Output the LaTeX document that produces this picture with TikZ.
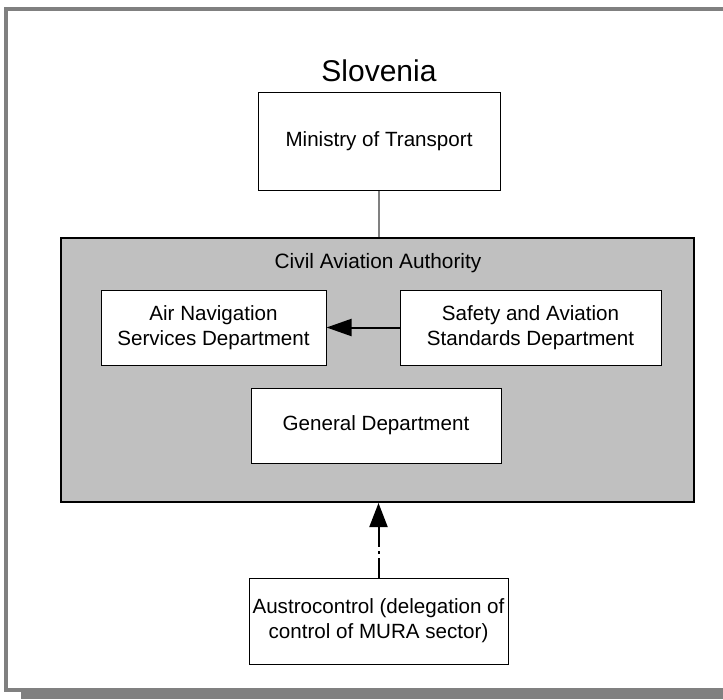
\documentclass[tikz,border=0pt]{standalone}
\usepackage{fontspec}
\setmainfont{Liberation Sans}
\usetikzlibrary{arrows.meta}
\definecolor{framegray}{HTML}{808080}
\definecolor{caagray}{HTML}{C0C0C0}
\tikzset{
  box/.style={draw=black, line width=1pt, fill=white, inner sep=0pt, align=center,
    font=\fontsize{20.6}{25}\selectfont},
  bigbox/.style={draw=black, line width=2pt, fill=caagray, inner sep=0pt},
  label/.style={inner sep=0pt, font=\fontsize{20.8}{25}\selectfont},
  arr/.style={line width=2pt, -{Triangle[length=25pt,width=17pt]}},
}
\begin{document}
\begin{tikzpicture}[x=1pt,y=-1pt]
\useasboundingbox (0,0) rectangle (723,699);
% frame and shadow
\fill[framegray] (21,688) rectangle (723,699);
\draw[framegray, line width=4pt] (730,9) -- (6,9) -- (6,690) -- (21,690);
% title
\node[inner sep=0pt, font=\fontsize{30}{36}\selectfont] (title) at (379,71) {Slovenia};
% ministry
\node[box, minimum width=242pt, minimum height=98pt] (ministry) at (379,141) {Ministry of Transport};
% CAA
\node[bigbox, minimum width=633pt, minimum height=264pt] (caa) at (377.5,370) {};
\node[label] (caatitle) at (378,263) {Civil Aviation Authority};
\draw[framegray, line width=2.5pt] (ministry.south) -- (ministry.south |- caa.north);
\node[box, minimum width=225pt, minimum height=75pt] (airnav) at (213.5,327.5) {Air Navigation\\Services Department};
\node[box, minimum width=261pt, minimum height=75pt] (safety) at (530.5,327.5) {Safety and Aviation\\Standards Department};
\node[box, minimum width=250pt, minimum height=75pt] (general) at (376,425.5) {General Department};
\draw[arr] (safety.west) -- (airnav.east);
% Austrocontrol
\node[box, minimum width=259pt, minimum height=86pt] (auc) at (378.5,621) {Austrocontrol (delegation of\\control of MURA sector)};
\draw[arr, -{Triangle[length=24pt,width=18pt]}, dash pattern=on 20pt off 4pt on 3pt off 4pt] (auc.north) -- (auc.north |- caa.south);
\end{tikzpicture}
\end{document}
